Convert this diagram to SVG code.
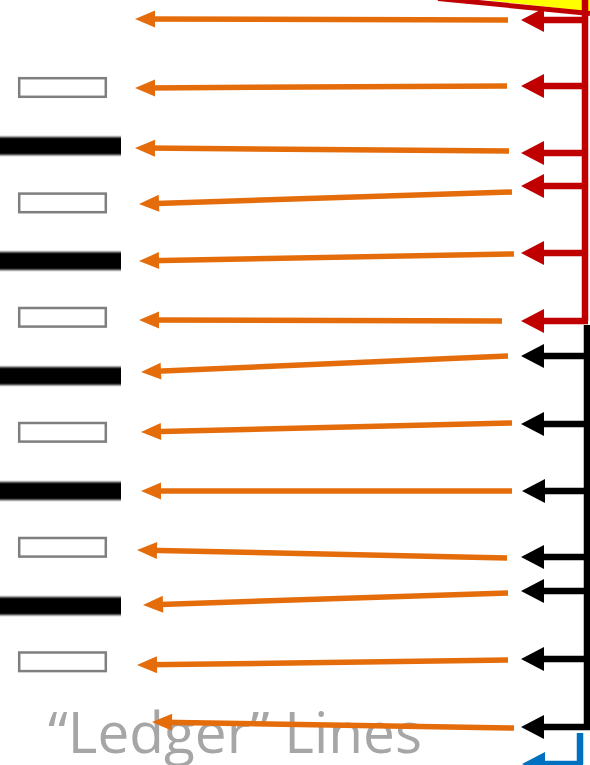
<svg xmlns="http://www.w3.org/2000/svg" width="590" height="765" viewBox="0 0 590 765">
  <style>
    .bar { fill: #000; filter: url(#soft); }
    .ledger { fill: #fff; stroke: #7f7f7f; stroke-width: 2.5; }
    .label { font-family: "Open Sans", "Liberation Sans", sans-serif; font-size: 56px; fill: #a6a6a6; }
    .pointer { fill: none; stroke: #e46c0a; stroke-width: 5.5; marker-end: url(#tipOrange); }
    .redbus { fill: none; stroke: #c00000; stroke-width: 6.5; }
    .blackbus { fill: none; stroke: #000; stroke-width: 6.5; }
    .bluebus { fill: none; stroke: #0070c0; stroke-width: 6.5; }
    .redstub { fill: none; stroke: #c00000; stroke-width: 6.5; marker-end: url(#tipRed); }
    .blackstub { fill: none; stroke: #000; stroke-width: 6.5; marker-end: url(#tipBlack); }
    .bluestub { fill: none; stroke: #0070c0; stroke-width: 6.5; marker-end: url(#tipBlue); }
  </style>
  <defs>
    <filter id="soft" x="-5%" y="-50%" width="110%" height="200%">
      <feGaussianBlur stdDeviation="0 0.8"/>
    </filter>
    <marker id="tipOrange" markerUnits="userSpaceOnUse" markerWidth="20" markerHeight="17" refX="10" refY="8.5" orient="auto" overflow="visible">
      <path d="M0,0 L20,8.5 L0,17 z" fill="#e46c0a"/>
    </marker>
    <marker id="tipRed" markerUnits="userSpaceOnUse" markerWidth="23" markerHeight="24" refX="3" refY="12" orient="auto" overflow="visible">
      <path d="M0,0 L23,12 L0,24 z" fill="#c00000"/>
    </marker>
    <marker id="tipBlack" markerUnits="userSpaceOnUse" markerWidth="23" markerHeight="24" refX="3" refY="12" orient="auto" overflow="visible">
      <path d="M0,0 L23,12 L0,24 z" fill="#000"/>
    </marker>
    <marker id="tipBlue" markerUnits="userSpaceOnUse" markerWidth="23" markerHeight="24" refX="3" refY="12" orient="auto" overflow="visible">
      <path d="M0,0 L23,12 L0,24 z" fill="#0070c0"/>
    </marker>
  </defs>

  <rect width="590" height="765" fill="#fff"/>

  <!-- staff lines (solid bars) -->
  <g id="staff-line-1"><rect class="bar" x="-2" y="137" width="123" height="18"/></g>
  <g id="staff-line-2"><rect class="bar" x="-2" y="252" width="123" height="18"/></g>
  <g id="staff-line-3"><rect class="bar" x="-2" y="367" width="123" height="18"/></g>
  <g id="staff-line-4"><rect class="bar" x="-2" y="482" width="123" height="18"/></g>
  <g id="staff-line-5"><rect class="bar" x="-2" y="597" width="123" height="18"/></g>

  <!-- ledger line outlines -->
  <g id="ledger-1"><rect class="ledger" x="19.2" y="78.2" width="86.6" height="18.6"/></g>
  <g id="ledger-2"><rect class="ledger" x="19.2" y="193.6" width="86.6" height="18.6"/></g>
  <g id="ledger-3"><rect class="ledger" x="19.2" y="308" width="86.6" height="18.6"/></g>
  <g id="ledger-4"><rect class="ledger" x="19.2" y="423" width="86.6" height="18.6"/></g>
  <g id="ledger-5"><rect class="ledger" x="19.2" y="538" width="86.6" height="18.6"/></g>
  <g id="ledger-6"><rect class="ledger" x="19.2" y="652.5" width="86.6" height="18.6"/></g>

  <!-- caption -->
  <g id="caption">
    <text class="label" x="48" y="753" textLength="374" lengthAdjust="spacingAndGlyphs">“Ledger” Lines</text>
  </g>

  <!-- corner wedge -->
  <g id="wedge">
    <polygon points="486,0 590,0 590,11.5" fill="#ffff00"/>
    <line x1="438" y1="-1.5" x2="590" y2="13.5" stroke="#c00000" stroke-width="5"/>
  </g>

  <g id="connectors">
    <!-- buses on the right edge -->
    <path class="redbus" d="M585,-5 V321"/>
    <path class="blackbus" d="M587,325 V730"/>
    <path class="bluebus" d="M580,733 V764"/>

    <!-- red group -->
    <path class="redstub" d="M588,20 H541"/>
    <path class="redstub" d="M588,86 H541"/>
    <path class="redstub" d="M588,153 H541"/>
    <path class="redstub" d="M588,186 H541"/>
    <path class="redstub" d="M588,253 H541"/>
    <path class="redstub" d="M588,321 H541"/>

    <!-- black group -->
    <path class="blackstub" d="M590,356 H541"/>
    <path class="blackstub" d="M590,424 H541"/>
    <path class="blackstub" d="M590,491 H542"/>
    <path class="blackstub" d="M590,557 H541"/>
    <path class="blackstub" d="M590,591 H541"/>
    <path class="blackstub" d="M590,659 H541"/>
    <path class="blackstub" d="M590,727 H541"/>

    <!-- blue group -->
    <path class="bluestub" d="M583,764 H542"/>

    <!-- orange pointers to staff positions -->
    <path class="pointer" d="M508,20 L145,19.03"/>
    <path class="pointer" d="M507,86 L145,87.95"/>
    <path class="pointer" d="M509,151 L145,148.08"/>
    <path class="pointer" d="M512,192 L149,203.68"/>
    <path class="pointer" d="M514,254 L149,260.81"/>
    <path class="pointer" d="M502,321 L149,320.03"/>
    <path class="pointer" d="M508,356 L151,371.56"/>
    <path class="pointer" d="M512,423 L151,431.76"/>
    <path class="pointer" d="M512,491 L151,491"/>
    <path class="pointer" d="M507,558 L147,550.22"/>
    <path class="pointer" d="M508,593 L153,604.67"/>
    <path class="pointer" d="M508,660 L147,664.87"/>
    <path class="pointer" d="M514,728 L162,722.17"/>
  </g>
</svg>
